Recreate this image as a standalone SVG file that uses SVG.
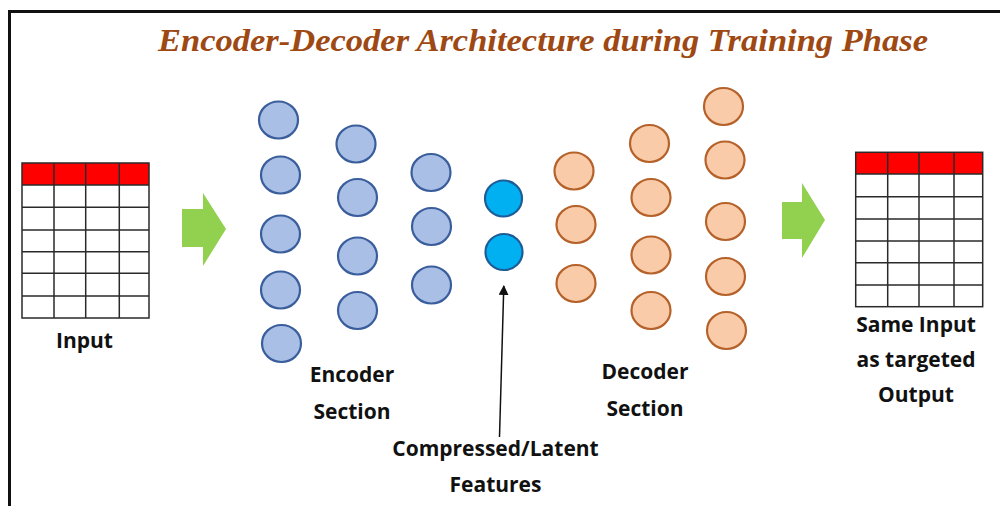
<svg xmlns="http://www.w3.org/2000/svg" width="1000" height="506" viewBox="0 0 1000 506">
<style>
.enc{fill:#A9BFE6;stroke:#3A5E9C;stroke-width:2.2}
.lat{fill:#00B0F0;stroke:#1E5C98;stroke-width:2.2}
.dec{fill:#FACBA8;stroke:#B5612A;stroke-width:2.2}
.grid{stroke:#2a2a2a;stroke-width:1.5;fill:none}
.hdr{fill:#FF0000}
.lbl{font-family:"Open Sans","Liberation Sans",sans-serif;font-weight:700;font-size:21px;fill:#111;text-anchor:middle}
.title{font-family:"Liberation Serif",serif;font-weight:700;font-style:italic;font-size:32px;fill:#9E4813}
.garrow{fill:#92D050}
</style>
<defs>
<marker id="ah" viewBox="0 0 10 10" refX="9" refY="5" markerWidth="10" markerHeight="10" markerUnits="userSpaceOnUse" orient="auto">
<path d="M0,0 L10,5 L0,10 Z" fill="#111"/>
</marker>
</defs>
<rect width="1000" height="506" fill="#fff"/>
<path d="M9.5,506 V11.5 H1000" fill="none" stroke="#111" stroke-width="3"/>
<text class="title" x="158" y="51" textLength="770" lengthAdjust="spacingAndGlyphs">Encoder-Decoder Architecture during Training Phase</text>

<g id="input-table">
<rect class="hdr" x="22" y="163" width="127" height="22"/>
<rect class="grid" x="22" y="163" width="127" height="155"/>
<path class="grid" d="M22,185H149M22,207.3H149M22,230H149M22,251.7H149M22,273.3H149M22,296H149M54,163V318M85.7,163V318M119.3,163V318"/>
<text class="lbl" x="84.5" y="347.5">Input</text>
</g>

<g id="arrow-in"><polygon class="garrow" points="182,209 203,209 203,193 226,229 203,266 203,247 182,247"/></g>

<g id="encoder">
<ellipse class="enc" cx="278.5" cy="120" rx="19.5" ry="18.5"/>
<ellipse class="enc" cx="280.5" cy="175" rx="19.5" ry="18.5"/>
<ellipse class="enc" cx="280.5" cy="234" rx="19.5" ry="18.5"/>
<ellipse class="enc" cx="280.5" cy="290" rx="19.5" ry="18.5"/>
<ellipse class="enc" cx="281.5" cy="343.5" rx="19.5" ry="18.5"/>
<ellipse class="enc" cx="356" cy="144" rx="19.5" ry="18.5"/>
<ellipse class="enc" cx="357.5" cy="197.5" rx="19.5" ry="18.5"/>
<ellipse class="enc" cx="357.5" cy="256" rx="19.5" ry="18.5"/>
<ellipse class="enc" cx="357.5" cy="310.5" rx="19.5" ry="18.5"/>
<ellipse class="enc" cx="431" cy="172.5" rx="19.5" ry="18.5"/>
<ellipse class="enc" cx="431.5" cy="226.5" rx="19.5" ry="18.5"/>
<ellipse class="enc" cx="431.5" cy="285" rx="19.5" ry="18.5"/>
<text class="lbl" x="352" y="381.5">Encoder</text>
<text class="lbl" x="352" y="418.5">Section</text>
</g>

<g id="latent">
<ellipse class="lat" cx="503.5" cy="198.5" rx="18.5" ry="18"/>
<ellipse class="lat" cx="504" cy="252" rx="18.5" ry="18"/>
<text class="lbl" x="495.5" y="455.5">Compressed/Latent</text>
<text class="lbl" x="495.5" y="492">Features</text>
</g>

<g id="decoder">
<ellipse class="dec" cx="574" cy="171" rx="19.5" ry="18.5"/>
<ellipse class="dec" cx="576" cy="224.5" rx="19.5" ry="18.5"/>
<ellipse class="dec" cx="576" cy="283.5" rx="19.5" ry="18.5"/>
<ellipse class="dec" cx="649.5" cy="143.5" rx="19.5" ry="18.5"/>
<ellipse class="dec" cx="651" cy="197.5" rx="19.5" ry="18.5"/>
<ellipse class="dec" cx="651" cy="255" rx="19.5" ry="18.5"/>
<ellipse class="dec" cx="651" cy="310.5" rx="19.5" ry="18.5"/>
<ellipse class="dec" cx="723.5" cy="106.5" rx="19.5" ry="18.5"/>
<ellipse class="dec" cx="725" cy="160" rx="19.5" ry="18.5"/>
<ellipse class="dec" cx="725.5" cy="221.5" rx="19.5" ry="18.5"/>
<ellipse class="dec" cx="725.5" cy="276.5" rx="19.5" ry="18.5"/>
<ellipse class="dec" cx="726.5" cy="330.5" rx="19.5" ry="18.5"/>
<text class="lbl" x="645" y="379">Decoder</text>
<text class="lbl" x="645" y="415.5">Section</text>
</g>

<g id="arrow-out"><polygon class="garrow" points="782,202 802,202 802,183 825,220 802,258 802,239 782,239"/></g>

<g id="output-table">
<rect class="hdr" x="855.7" y="152.3" width="127" height="21.7"/>
<rect class="grid" x="855.7" y="152.3" width="127" height="154.4"/>
<path class="grid" d="M855.7,174H982.7M855.7,196.7H982.7M855.7,219H982.7M855.7,241H982.7M855.7,262.7H982.7M855.7,285H982.7M887.7,152.3V306.7M919,152.3V306.7M954,152.3V306.7"/>
<text class="lbl" x="916" y="332">Same Input</text>
<text class="lbl" x="916" y="366.5">as targeted</text>
<text class="lbl" x="916" y="402">Output</text>
</g>

<g id="connectors">
<line x1="499.5" y1="437" x2="503.8" y2="286" stroke="#111" stroke-width="1.5" marker-end="url(#ah)"/>
</g>
</svg>
